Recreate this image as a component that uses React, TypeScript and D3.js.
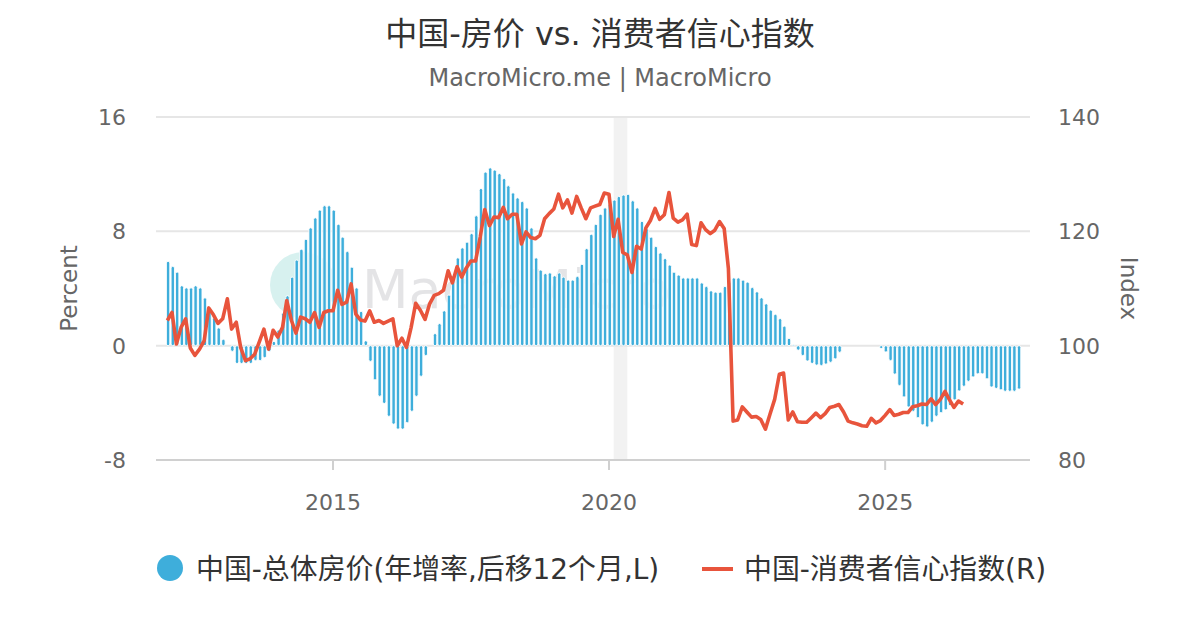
import React, { useEffect, useRef } from "react";
import * as d3 from "d3";

// 中国-总体房价 年增率 (后移12个月), monthly from Jan 2012, left axis (%)
const housePrice: (number | null)[] = [
  5.9, 5.55, 5.15, 4.2, 4.05, 4.05, 4.2, 4.05, 3.35, 2.65, 1.95, 1.25,
  0.45, null, -0.4, -1.25, -1.25, -1.25, -1.25, -1.05, -1.05, -0.85, -0.4, 0.3,
  1.1, 2.3, 3.5, 4.8, 6.0, 6.75, 7.45, 8.25, 8.95, 9.5, 9.8, 9.8,
  9.5, 8.5, 7.6, 6.6, 5.5, 4.05, 2.4, 0.35, -1.1, -2.4, -3.55, -4.05,
  -4.95, -5.5, -5.85, -5.85, -5.4, -4.6, -3.55, -2.15, -0.7, null, 0.85, 1.55,
  2.45, 3.55, 4.9, 6.15, 6.85, 7.25, 7.85, 9.1, 11.0, 12.15, 12.45, 12.3,
  12.05, 11.7, 11.2, 10.7, 10.35, 10.1, 9.65, 8.25, 6.15, 5.3, 5.05, 5.1,
  4.9, 5.1, 4.8, 4.6, 4.6, 4.85, 5.7, 6.8, 7.8, 8.5, 9.2, 9.65,
  9.95, 10.2, 10.45, 10.55, 10.6, 10.15, 9.65, 8.7, 8.2, 7.6, 6.95, 6.5,
  6.1, 5.65, 5.15, 4.95, 4.75, 4.75, 4.75, 4.75, 4.4, 4.15, 3.85, 3.75,
  3.75, 4.15, 4.5, 4.75, 4.75, 4.6, 4.45, 4.08, 3.78, 3.36, 2.94, 2.5,
  2.2, 1.9, 1.37, 0.52, 0.07, -0.32, -0.7, -1.08, -1.25, -1.37, -1.4, -1.3,
  -1.17, -0.93, -0.47, null, null, null, null, null, null, null, null, -0.2,
  -0.45, -1.05, -2.0, -2.8, -3.6, -4.3, -4.6, -5.05, -5.55, -5.7, -5.37, -4.95,
  -4.7, -4.5, -4.2, -3.8, -3.18, -2.85, -2.5, -2.2, -1.98, -1.98, -2.33, -2.9,
  -3.0, -3.1, -3.2, -3.2, -3.2, -3.05,
];

// 中国-消费者信心指数, monthly from Jan 2012, right axis (index)
const confidence: number[] = [
  104.4, 105.8, 100.3, 103.2, 104.7, 99.6, 98.3, 99.4, 100.9, 106.6, 105.4, 103.9,
  104.7, 108.2, 102.9, 104.1, 99.6, 97.4, 97.7, 98.5, 100.7, 102.9, 99.4, 102.7,
  101.5, 103.2, 107.9, 104.4, 102.2, 105.0, 104.7, 104.1, 105.8, 103.2, 105.8, 106.1,
  106.1, 109.7, 107.2, 107.6, 110.8, 105.5, 104.5, 104.3, 106.1, 104.1, 104.4, 103.9,
  104.3, 104.7, 100.0, 101.3, 99.7, 103.2, 107.4, 106.2, 104.6, 107.3, 108.8, 109.1,
  109.7, 113.1, 111.0, 113.8, 112.0, 113.6, 114.8, 114.8, 119.0, 123.8, 121.0, 122.5,
  122.4, 124.2, 122.2, 123.0, 123.0, 117.8, 119.9, 118.9, 118.7, 119.3, 122.2, 123.1,
  123.9, 126.5, 124.1, 125.5, 123.2, 126.1, 124.1, 122.2, 124.1, 124.4, 124.7, 126.7,
  126.5, 119.1, 122.1, 116.3, 115.9, 112.8, 117.4, 116.9, 120.6, 121.9, 124.0, 122.1,
  122.9, 126.8, 122.3, 121.6, 122.0, 123.0, 117.7, 117.5, 121.5, 120.3, 119.6, 120.2,
  121.7, 120.5, 113.5, 86.8, 87.0, 89.3, 88.4, 87.5, 87.6, 87.1, 85.4, 88.0,
  90.6, 95.0, 95.2, 87.0, 88.4, 86.7, 86.6, 86.6, 87.4, 88.2, 87.4, 88.1,
  89.2, 89.4, 89.7, 88.4, 86.8, 86.5, 86.3, 86.0, 85.9, 87.3, 86.5, 86.9,
  87.8, 88.8, 87.8, 88.0, 88.3, 88.3, 89.3, 89.5, 89.8, 89.7, 90.7, 89.7,
  90.6, 92.0, 90.6, 89.2, 90.3, 89.8,
];

const leftTicks = [-8, 0, 8, 16];
const rightTicks = [80, 100, 120, 140];
const yearTicks = [2015, 2020, 2025];
const recession = [new Date(2020, 1, 1), new Date(2020, 4, 1)];

const FONT = "'DejaVu Sans', 'Noto Sans CJK SC', sans-serif";
const BLUE = "#3eaedb";
const RED = "#e8543c";

const App = () => {
  const ref = useRef<SVGSVGElement>(null);

  useEffect(() => {
    if (!ref.current) return;
    const svg = d3.select(ref.current);
    svg.selectAll("*").remove();

    const W = 1200, H = 630;
    const left = 156, right = 1030, top = 117, bottom = 460;

    const x = d3
      .scaleTime()
      .domain([new Date(2015, 0, 1), new Date(2020, 0, 1)])
      .range([333, 609]);
    const yL = d3.scaleLinear().domain([-8, 16]).range([bottom, top]);
    const yR = d3.scaleLinear().domain([80, 140]).range([bottom, top]);

    svg.append("rect").attr("width", W).attr("height", H).attr("fill", "#fff");

    // title
    svg.append("text")
      .attr("x", W / 2).attr("y", 45)
      .attr("text-anchor", "middle")
      .attr("font-family", FONT).attr("font-size", 32)
      .attr("fill", "#333")
      .text("中国-房价 vs. 消费者信心指数");
    svg.append("text")
      .attr("x", W / 2).attr("y", 86)
      .attr("text-anchor", "middle")
      .attr("font-family", FONT).attr("font-size", 24)
      .attr("fill", "#666")
      .text("MacroMicro.me | MacroMicro");

    // recession band
    svg.append("rect")
      .attr("x", x(recession[0]))
      .attr("y", top)
      .attr("width", x(recession[1]) - x(recession[0]))
      .attr("height", bottom - top)
      .attr("fill", "#f2f2f2");

    // grid
    svg.append("g")
      .selectAll("line")
      .data(leftTicks)
      .enter()
      .append("line")
      .attr("x1", left).attr("x2", right)
      .attr("y1", (d) => yL(d)).attr("y2", (d) => yL(d))
      .attr("stroke", (d) => (d === -8 ? "#d0d0d0" : "#e6e6e6"))
      .attr("stroke-width", 2);

    // watermark
    const wm = svg.append("g").attr("opacity", 0.9);
    wm.append("circle").attr("cx", 303).attr("cy", 285).attr("r", 33).attr("fill", "#d3f0ee");
    wm.append("text")
      .attr("x", 362).attr("y", 308)
      .attr("font-family", FONT).attr("font-size", 54)
      .attr("fill", "#e2e2e4")
      .text("MacroMicro");

    // x axis ticks
    svg.append("g")
      .selectAll("line")
      .data(yearTicks)
      .enter()
      .append("line")
      .attr("x1", (d) => x(new Date(d, 0, 1)))
      .attr("x2", (d) => x(new Date(d, 0, 1)))
      .attr("y1", bottom).attr("y2", bottom + 10)
      .attr("stroke", "#d0d0d0").attr("stroke-width", 2);

    svg.append("g")
      .selectAll("text")
      .data(yearTicks)
      .enter()
      .append("text")
      .attr("x", (d) => x(new Date(d, 0, 1)))
      .attr("y", 510)
      .attr("text-anchor", "middle")
      .attr("font-family", FONT).attr("font-size", 22)
      .attr("fill", "#666")
      .text((d) => d);

    // y labels
    svg.append("g")
      .selectAll("text")
      .data(leftTicks)
      .enter()
      .append("text")
      .attr("x", 126)
      .attr("y", (d) => yL(d) + 8)
      .attr("text-anchor", "end")
      .attr("font-family", FONT).attr("font-size", 22)
      .attr("fill", "#666")
      .text((d) => d);
    svg.append("g")
      .selectAll("text")
      .data(rightTicks)
      .enter()
      .append("text")
      .attr("x", 1058)
      .attr("y", (d) => yR(d) + 8)
      .attr("text-anchor", "start")
      .attr("font-family", FONT).attr("font-size", 22)
      .attr("fill", "#666")
      .text((d) => d);

    svg.append("text")
      .attr("transform", `translate(77,${(top + bottom) / 2}) rotate(-90)`)
      .attr("text-anchor", "middle")
      .attr("font-family", FONT).attr("font-size", 23)
      .attr("fill", "#666")
      .text("Percent");
    svg.append("text")
      .attr("transform", `translate(1121,${(top + bottom) / 2}) rotate(90)`)
      .attr("text-anchor", "middle")
      .attr("font-family", FONT).attr("font-size", 23)
      .attr("fill", "#666")
      .text("Index");

    // bars
    const bw = 3.4;
    svg.append("g")
      .selectAll("rect")
      .data(housePrice.map((v, i) => ({ v, d: new Date(2012, i, 6) })).filter((p) => p.v !== null))
      .enter()
      .append("rect")
      .attr("x", (p) => x(p.d) - bw / 2)
      .attr("y", (p) => Math.min(yL(p.v as number), yL(0)))
      .attr("width", bw)
      .attr("height", (p) => Math.max(Math.abs(yL(p.v as number) - yL(0)), 1))
      .attr("rx", 1.7)
      .attr("fill", BLUE)
      .attr("stroke", "#fff")
      .attr("stroke-width", 0.9);

    // line
    const line = d3
      .line<number>()
      .x((_, i) => x(new Date(2012, i, 1)))
      .y((d) => yR(d));
    svg.append("path")
      .datum(confidence)
      .attr("d", line)
      .attr("fill", "none")
      .attr("stroke", RED)
      .attr("stroke-width", 3.6)
      .attr("stroke-linejoin", "round");

    // legend
    svg.append("circle").attr("cx", 170).attr("cy", 568).attr("r", 13).attr("fill", BLUE);
    svg.append("text")
      .attr("x", 196).attr("y", 579)
      .attr("font-family", FONT).attr("font-size", 27.9)
      .attr("fill", "#333")
      .text("中国-总体房价(年增率,后移12个月,L)");
    svg.append("line")
      .attr("x1", 702).attr("x2", 733).attr("y1", 569).attr("y2", 569)
      .attr("stroke", RED).attr("stroke-width", 4);
    svg.append("text")
      .attr("x", 744).attr("y", 579)
      .attr("font-family", FONT).attr("font-size", 27.9)
      .attr("fill", "#333")
      .text("中国-消费者信心指数(R)");
  }, []);

  return (
    <svg
      ref={ref}
      width={1200}
      height={630}
      style={{ position: "absolute", left: 0, top: 0 }}
    />
  );
};

export default App;
